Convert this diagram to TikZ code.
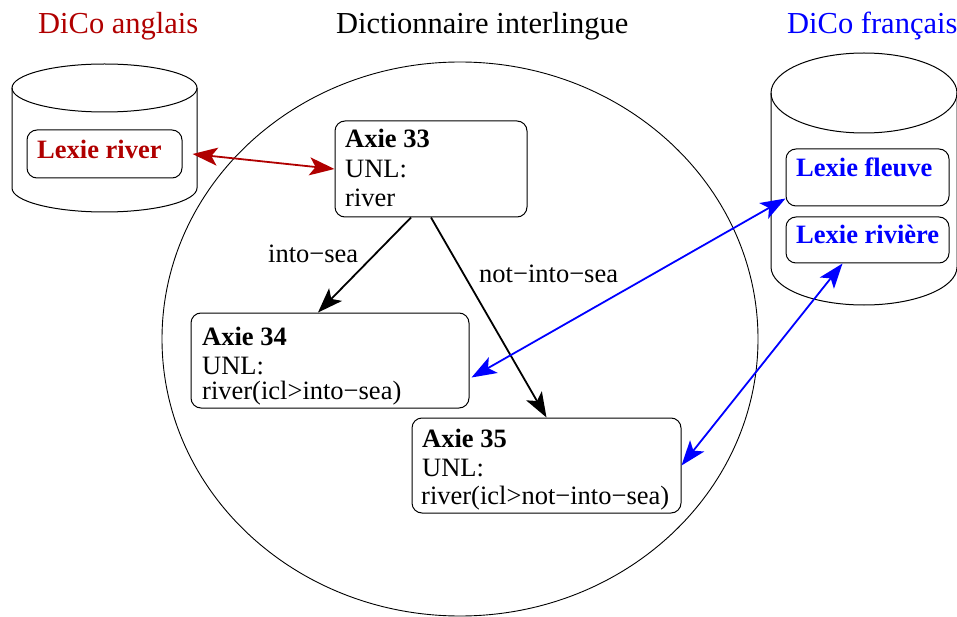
\documentclass[tikz,border=0pt]{standalone}
\usepackage{fontspec}
\setmainfont{Liberation Serif}
\usetikzlibrary{arrows.meta}
\definecolor{dred}{RGB}{176,0,0}
\definecolor{dblue}{RGB}{0,0,255}
\begin{document}
\begin{tikzpicture}[x=1pt,y=-1pt,
  box/.style={draw,rounded corners=10pt,line width=1pt,inner sep=0pt},
  txt/.style={anchor=base west,inner sep=0pt,font=\fontsize{26.5}{29}\selectfont},
  btxt/.style={txt,font=\fontsize{26.5}{29}\selectfont\bfseries},
  head/.style={anchor=base west,inner sep=0pt,font=\fontsize{30.5}{33}\selectfont},
  dbl/.style={line width=1.8pt,{Stealth[length=25pt,width=18pt,inset=6pt]}-{Stealth[length=25pt,width=18pt,inset=6pt]}},
  sgl/.style={line width=1.8pt,-{Stealth[length=25pt,width=18pt,inset=6pt]}},
  cyl/.style={line width=1pt}
]
\useasboundingbox (0,0) rectangle (957,617);

% headings
\node[head,text=dred] (h1) at (38,34) {DiCo anglais};
\node[head] (h2) at (336,34) {Dictionnaire interlingue};
\node[head,text=dblue] (h3) at (787,34) {DiCo français};

% interlingual dictionary
\draw[line width=0.9pt] (460,339) ellipse [x radius=298, y radius=277];

% left cylinder
\draw[cyl] (104.5,88) ellipse [x radius=92.5, y radius=24];
\draw[cyl] (12,88) -- (12,188) arc[start angle=180, end angle=0, x radius=92.5, y radius=24] -- (197,88);

% right cylinder
\draw[cyl] (864,93) ellipse [x radius=93, y radius=40];
\draw[cyl] (771,93) -- (771,267) arc[start angle=180, end angle=0, x radius=93, y radius=38] -- (957,93);

% lexie boxes
\node[box,minimum width=155pt,minimum height=48pt] (lriver) at (104.5,154) {};
\node[btxt,text=dred] (tlriver) at (37,159) {Lexie river};
\node[box,minimum width=163pt,minimum height=57pt] (lfleuve) at (867.5,177.5) {};
\node[btxt,text=dblue] (tlfleuve) at (796,177) {Lexie fleuve};
\node[box,minimum width=163pt,minimum height=46pt] (lriviere) at (867.5,240) {};
\node[btxt,text=dblue] (tlriviere) at (796,244) {Lexie rivière};

% axie boxes
\node[box,minimum width=192pt,minimum height=96pt] (ax33) at (431,169) {};
\node[btxt] (a33a) at (345,148) {Axie 33};
\node[txt] (a33b) at (345,178) {UNL:};
\node[txt] (a33c) at (345,207) {river};

\node[box,minimum width=278pt,minimum height=95pt] (ax34) at (330,360.5) {};
\node[btxt] (a34a) at (202,345) {Axie 34};
\node[txt] (a34b) at (202,374) {UNL:};
\node[txt] (a34c) at (202,399) {river(icl>into−sea)};

\node[box,minimum width=269pt,minimum height=95pt] (ax35) at (546.5,465.5) {};
\node[btxt] (a35a) at (422,447) {Axie 35};
\node[txt] (a35b) at (422,476) {UNL:};
\node[txt] (a35c) at (421,504) {river(icl>not−into−sea)};

% relation labels
\node[txt] (l1) at (268,262) {into−sea};
\node[txt] (l2) at (479,283) {not−into−sea};

% connectors
\draw[dbl,dred] ([xshift=10pt]lriver.east) -- (ax33.west);
\draw[sgl] ([xshift=-20pt]ax33.south) -- ([xshift=-12pt]ax34.north);
\draw[sgl] (ax33.south) -- (ax35.north);
\draw[dbl,dblue] ([yshift=8pt]lfleuve.south west) -- ([xshift=2pt,yshift=-17pt]ax34.east);
\draw[dbl,dblue] ([xshift=-25pt]lriviere.south) -- (ax35.east);
\end{tikzpicture}
\end{document}
